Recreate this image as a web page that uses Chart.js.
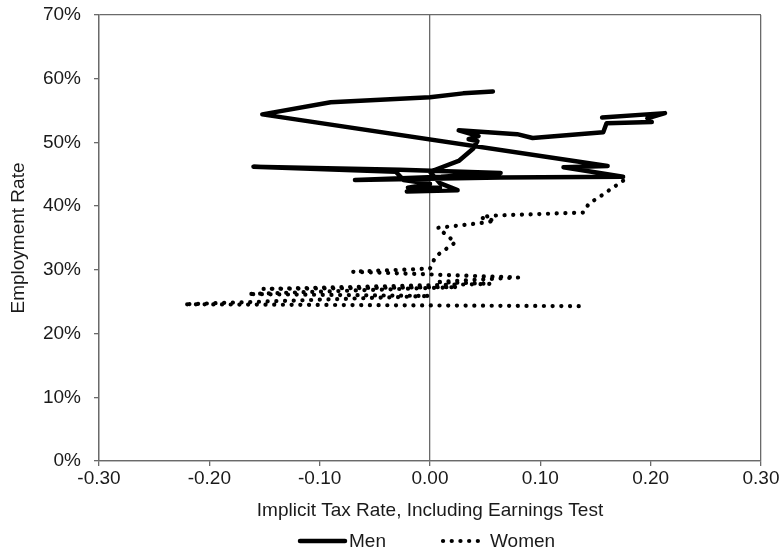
<!DOCTYPE html>
<html>
<head>
<meta charset="utf-8">
<script src="https://cdn.jsdelivr.net/npm/chart.js@4/dist/chart.umd.min.js"></script>
<style>
  html, body { margin: 0; padding: 0; background: #fff; }
  #wrap { width: 783px; height: 552px; }
</style>
</head>
<body>
<div id="wrap"><canvas id="c" width="783" height="552"></canvas></div>
<script>
// Men: implicit tax rate (x) and employment rate in % (y), in path order
const menTax = [0.057, 0.030, 0.000, -0.090, -0.152, 0.161, 0.121, 0.175, 0.064, -0.068,
  0.010, 0.064, -0.027, -0.160, -0.031, -0.024, 0.000, -0.020, 0.009, -0.021,
  0.025, 0.009, 0.000, 0.026, 0.039, 0.043, 0.035, 0.044, 0.026, 0.079,
  0.093, 0.157, 0.160, 0.201, 0.197, 0.213, 0.156];
const menEmp = [58.0, 57.7, 57.1, 56.3, 54.4, 46.3, 46.1, 44.6, 44.5, 44.1,
  44.6, 45.2, 45.7, 46.2, 45.4, 44.1, 43.5, 42.9, 42.9, 42.3,
  42.5, 43.6, 45.4, 47.1, 49.0, 50.2, 50.5, 51.0, 51.9, 51.3,
  50.7, 51.6, 53.0, 53.2, 53.8, 54.6, 53.9];

// Women: implicit tax rate (x) and employment rate in % (y), in path order
const womenTax = [0.175, 0.155, 0.144, 0.139, 0.055, 0.046, 0.059, 0.044, 0.007, 0.023,
  0.005, 0.000, -0.070, 0.080, 0.005, 0.055, -0.151, 0.025, -0.165, 0.000,
  -0.223, 0.136];
const womenEmp = [44.0, 41.6, 40.4, 39.0, 38.5, 38.2, 37.7, 37.3, 36.6, 34.3,
  32.1, 30.2, 29.7, 28.8, 28.1, 27.8, 27.0, 27.3, 26.2, 25.9,
  24.6, 24.3];

const seriesNames = ['Men', 'Women'];
const xTitle = 'Implicit Tax Rate, Including Earnings Test';
const yTitle = 'Employment Rate';

const toPoints = (xs, ys) => xs.map((x, i) => ({ x: x, y: ys[i] }));

const FONT_FAMILY = 'Liberation Sans, Arial, sans-serif';
const FONT_SIZE = 19;
const TEXT = '#1a1a1a';
const AXIS = '#6a6a6a';

// frame lines: x at -0.30, 0 and 0.30; y at 0% and 70%
const xGridColor = ctx => {
  const v = ctx.tick ? ctx.tick.value : NaN;
  return (Math.abs(v) < 1e-9 || Math.abs(Math.abs(v) - 0.3) < 1e-9) ? AXIS : 'rgba(0,0,0,0)';
};
const yGridColor = ctx => {
  const v = ctx.tick ? ctx.tick.value : NaN;
  return (Math.abs(v) < 1e-9 || Math.abs(v - 70) < 1e-9) ? AXIS : 'rgba(0,0,0,0)';
};

// legend row under the axis title: line sample followed by the series name
const lineLegend = {
  id: 'lineLegend',
  afterDraw(chart, args, opts) {
    const ctx = chart.ctx;
    ctx.save();
    ctx.font = FONT_SIZE + 'px ' + FONT_FAMILY;
    ctx.textBaseline = 'middle';
    ctx.textAlign = 'left';
    chart.data.datasets.forEach((ds, i) => {
      const e = opts.entries[i];
      ctx.strokeStyle = ds.borderColor;
      ctx.lineWidth = ds.borderWidth;
      ctx.lineCap = ds.borderCapStyle || 'butt';
      ctx.setLineDash(ds.borderDash || []);
      ctx.beginPath();
      ctx.moveTo(e.x0, opts.y);
      ctx.lineTo(e.x1, opts.y);
      ctx.stroke();
      ctx.setLineDash([]);
      ctx.fillStyle = TEXT;
      ctx.fillText(ds.label, e.x1 + 4, opts.y + 1);
    });
    ctx.restore();
  }
};

new Chart(document.getElementById('c'), {
  type: 'scatter',
  data: {
    datasets: [
      {
        label: seriesNames[0],
        data: toPoints(menTax, menEmp),
        showLine: true,
        borderColor: '#000',
        backgroundColor: '#000',
        borderWidth: 4.5,
        borderJoinStyle: 'round',
        borderCapStyle: 'round',
        pointRadius: 0,
        pointHoverRadius: 0,
        tension: 0
      },
      {
        label: seriesNames[1],
        data: toPoints(womenTax, womenEmp),
        showLine: true,
        borderColor: '#000',
        backgroundColor: '#000',
        borderWidth: 4.2,
        borderDash: [0.1, 8.6],
        borderJoinStyle: 'round',
        borderCapStyle: 'round',
        pointRadius: 0,
        pointHoverRadius: 0,
        tension: 0
      }
    ]
  },
  options: {
    responsive: false,
    animation: false,
    devicePixelRatio: 1,
    layout: { padding: { left: 0, right: 22, top: 15, bottom: 0 } },
    plugins: {
      tooltip: { enabled: false },
      legend: { display: false },
      lineLegend: {
        y: 541,
        entries: [ { x0: 300, x1: 345 }, { x0: 443, x1: 486 } ]
      }
    },
    scales: {
      x: {
        type: 'linear',
        min: -0.3,
        max: 0.3,
        ticks: {
          stepSize: 0.1,
          color: TEXT,
          padding: 1,
          font: { family: FONT_FAMILY, size: FONT_SIZE },
          callback: v => (Math.abs(v) < 1e-9 ? 0 : v).toFixed(2)
        },
        grid: { color: xGridColor, lineWidth: 1.3, tickColor: AXIS, tickLength: 5 },
        border: { display: true, color: AXIS, width: 1.3 },
        title: {
          display: true,
          text: xTitle,
          color: TEXT,
          font: { family: FONT_FAMILY, size: FONT_SIZE },
          padding: { top: 4, bottom: 30 }
        },
        afterFit: s => { s.height = 91; }
      },
      y: {
        type: 'linear',
        min: 0,
        max: 70,
        ticks: {
          stepSize: 10,
          color: TEXT,
          padding: 13,
          font: { family: FONT_FAMILY, size: FONT_SIZE },
          callback: v => Math.round(v) + '%'
        },
        grid: { color: yGridColor, lineWidth: 1.3, tickColor: AXIS, tickLength: 5 },
        border: { display: true, color: AXIS, width: 1.3 },
        title: {
          display: true,
          text: yTitle,
          color: TEXT,
          font: { family: FONT_FAMILY, size: FONT_SIZE },
          padding: { top: 7, bottom: 4 }
        },
        afterFit: s => { s.width = 99; s.paddingTop = 0; s.paddingBottom = 0; }
      }
    }
  },
  plugins: [lineLegend]
});
</script>
</body>
</html>
